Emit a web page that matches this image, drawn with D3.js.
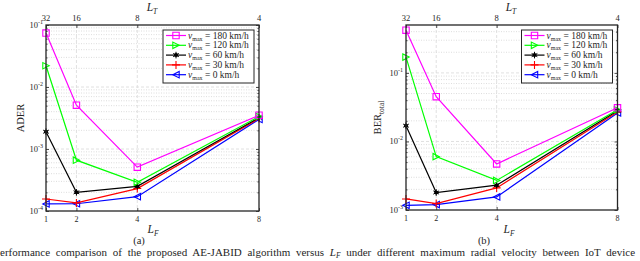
<!DOCTYPE html>
<html><head><meta charset="utf-8">
<script src="https://cdn.jsdelivr.net/npm/d3@7"></script>
<style>
html,body{margin:0;padding:0;background:#fff;overflow:hidden}
svg text{font-family:"Liberation Serif","DejaVu Serif",serif;fill:#262626}
</style></head><body>
<svg id="c" width="640" height="261" font-family="Liberation Serif, DejaVu Serif, serif"></svg>
<script>
// ---- data ----
const LF = [1, 2, 4, 8];
const LT = [32, 16, 8, 4];
const speeds = ["180", "120", "60", "30", "0"];
const colors = ["#ff00ff", "#00ff00", "#000000", "#ff0000", "#0000ff"];
const markers = ["square", "triRight", "star", "plus", "triLeft"];

const ader180 = [0.074, 0.0051, 5.1e-4, 3.5e-3];
const ader120 = [0.022, 6.6e-4, 2.9e-4, 3.35e-3];
const ader60  = [1.9e-3, 2.0e-4, 2.5e-4, 3.2e-3];
const ader30  = [1.56e-4, 1.35e-4, 2.3e-4, 3.1e-3];
const ader0   = [1.3e-4, 1.31e-4, 1.7e-4, 3.0e-3];

const ber180 = [0.42, 0.045, 4.7e-3, 0.031];
const ber120 = [0.17, 6.0e-3, 2.7e-3, 0.029];
const ber60  = [0.017, 1.8e-3, 2.3e-3, 0.028];
const ber30  = [1.45e-3, 1.24e-3, 2.1e-3, 0.027];
const ber0   = [1.17e-3, 1.2e-3, 1.55e-3, 0.026];

const aderTicks = [1e-4, 1e-3, 1e-2, 1e-1];
const berTicks = [1e-3, 1e-2, 1e-1];

const svg = d3.select("#c");

function symPath(type, s) {
  const p = d3.path();
  if (type === "square") { p.rect(-s, -s, 2 * s, 2 * s); }
  else if (type === "triRight") { p.moveTo(s, 0); p.lineTo(-s, -s); p.lineTo(-s, s); p.closePath(); }
  else if (type === "triLeft") { p.moveTo(-s, 0); p.lineTo(s, -s); p.lineTo(s, s); p.closePath(); }
  else if (type === "plus") { p.moveTo(-s, 0); p.lineTo(s, 0); p.moveTo(0, -s); p.lineTo(0, s); }
  else if (type === "ast") {
    for (let a = 0; a < 3; a++) {
      const th = Math.PI / 2 + a * Math.PI / 3;
      p.moveTo(-s * Math.cos(th), -s * Math.sin(th)); p.lineTo(s * Math.cos(th), s * Math.sin(th));
    }
  }
  return p.toString();
}
function drawMarker(g, type, x, y, color) {
  if (type === "star") {
    g.append("circle").attr("cx", x).attr("cy", y).attr("r", 2).attr("fill", color);
    g.append("path").attr("transform", `translate(${x},${y})`)
      .attr("d", symPath("ast", 3.3)).attr("fill", "none").attr("stroke", color).attr("stroke-width", 1);
  } else {
    const s = type === "plus" ? 4 : 3.2;
    g.append("path").attr("transform", `translate(${x},${y})`)
      .attr("d", symPath(type, s)).attr("fill", "none").attr("stroke", color).attr("stroke-width", 1.1);
  }
}

function drawPanel(cfg) {
  const { left, right, top, bottom, yDomain, yTicks, series, yLabel, yLabelX, sub, subX, lfX, ltX } = cfg;
  const x = d3.scaleLinear().domain([1, 8]).range([left, right]);
  const y = d3.scaleLog().domain(yDomain).range([bottom, top]);
  const g = svg.append("g");

  const minor = [];
  const lo = Math.floor(Math.log10(yDomain[0])), hi = Math.ceil(Math.log10(yDomain[1]));
  for (let e = lo; e < hi; e++) for (let m = 2; m <= 9; m++) {
    const v = m * Math.pow(10, e);
    if (v > yDomain[0] && v < yDomain[1]) minor.push(v);
  }
  g.selectAll(".mg").data(minor).join("line")
    .attr("x1", left).attr("x2", right).attr("y1", d => y(d)).attr("y2", d => y(d))
    .attr("stroke", "#d4d4d4").attr("stroke-width", 0.8).attr("stroke-dasharray", "1,1.5");
  g.selectAll(".Mg").data(yTicks.filter(d => d > yDomain[0] && d < yDomain[1])).join("line")
    .attr("x1", left).attr("x2", right).attr("y1", d => y(d)).attr("y2", d => y(d))
    .attr("stroke", "#dcdcdc").attr("stroke-width", 0.9).attr("stroke-dasharray", "3,2");
  g.selectAll(".vg").data(LF.slice(1, 3)).join("line")
    .attr("x1", d => x(d)).attr("x2", d => x(d)).attr("y1", top).attr("y2", bottom)
    .attr("stroke", "#dcdcdc").attr("stroke-width", 0.9).attr("stroke-dasharray", "3,2");

  const axL = g.append("g").attr("transform", `translate(${left},0)`)
    .call(d3.axisRight(y).tickValues(yTicks).tickSize(3).tickFormat(""));
  const axLm = g.append("g").attr("transform", `translate(${left},0)`)
    .call(d3.axisRight(y).tickValues(minor).tickSize(1.6).tickFormat(""));
  const axR = g.append("g").attr("transform", `translate(${right},0)`)
    .call(d3.axisLeft(y).tickValues(yTicks).tickSize(3).tickFormat(""));
  const axRm = g.append("g").attr("transform", `translate(${right},0)`)
    .call(d3.axisLeft(y).tickValues(minor).tickSize(1.6).tickFormat(""));
  const axB = g.append("g").attr("transform", `translate(0,${bottom})`)
    .call(d3.axisTop(x).tickValues(LF).tickSize(3).tickFormat(""));
  const axT = g.append("g").attr("transform", `translate(0,${top})`)
    .call(d3.axisBottom(x).tickValues(LF).tickSize(3).tickFormat(""));
  [axL, axLm, axR, axRm, axB, axT].forEach(a => {
    a.select(".domain").remove();
    a.selectAll("line").attr("stroke", "#262626").attr("stroke-width", 0.8);
  });

  yTicks.forEach(t => {
    const tx = g.append("text").attr("x", left - 3).attr("y", y(t) + 3).attr("text-anchor", "end").attr("font-size", 8.5);
    tx.append("tspan").text("10");
    tx.append("tspan").attr("dy", -4).attr("font-size", 6).text("-" + Math.round(-Math.log10(t)));
  });
  LF.forEach(v => g.append("text").attr("x", x(v)).attr("y", bottom + 11).attr("text-anchor", "middle").attr("font-size", 8).text(v));
  LF.forEach((v, i) => g.append("text").attr("x", x(v)).attr("y", top - 4).attr("text-anchor", "middle").attr("font-size", 8.5).text(LT[i]));

  const lt = g.append("text").attr("x", ltX).attr("y", 11).attr("text-anchor", "middle").attr("font-size", 11.5);
  lt.append("tspan").attr("font-style", "italic").text("L");
  lt.append("tspan").attr("dy", 2.5).attr("font-size", 7.5).attr("font-style", "italic").text("T");
  const lf = g.append("text").attr("x", lfX).attr("y", 233).attr("text-anchor", "middle").attr("font-size", 11.5);
  lf.append("tspan").attr("font-style", "italic").text("L");
  lf.append("tspan").attr("dy", 2.5).attr("font-size", 7.5).attr("font-style", "italic").text("F");
  g.append("text").attr("x", subX).attr("y", 244).attr("text-anchor", "middle").attr("font-size", 10.5).text(sub);

  const yl = g.append("text").attr("transform", `translate(${yLabelX},${(top + bottom) / 2}) rotate(-90)`)
    .attr("text-anchor", "middle").attr("font-size", 10.5);
  yl.append("tspan").text(yLabel[0]);
  if (yLabel[1]) yl.append("tspan").attr("dy", 2.5).attr("font-size", 7.5).text(yLabel[1]);

  const line = d3.line().x((d, i) => x(LF[i])).y(d => y(d));
  const order = [4, 3, 2, 1, 0];
  order.forEach(k => {
    g.append("path").datum(series[k]).attr("d", line).attr("fill", "none")
      .attr("stroke", colors[k]).attr("stroke-width", 1.2);
    series[k].forEach((v, i) => drawMarker(g, markers[k], x(LF[i]), y(v), colors[k]));
  });

  g.append("rect").attr("x", left).attr("y", top).attr("width", right - left).attr("height", bottom - top)
    .attr("fill", "none").attr("stroke", "#262626").attr("stroke-width", 1.3);

  const lx = right - 96, ly = top + 5, lw = 91, lh = 53;
  const lg = g.append("g");
  lg.append("rect").attr("x", lx).attr("y", ly).attr("width", lw).attr("height", lh)
    .attr("fill", "#fff").attr("stroke", "#262626").attr("stroke-width", 1);
  speeds.forEach((s, k) => {
    const yy = ly + 5.5 + k * 9.8;
    lg.append("line").attr("x1", lx + 3).attr("x2", lx + 23).attr("y1", yy).attr("y2", yy)
      .attr("stroke", colors[k]).attr("stroke-width", 1.2);
    drawMarker(lg, markers[k], lx + 13, yy, colors[k]);
    const t = lg.append("text").attr("x", lx + 25).attr("y", yy + 3).attr("font-size", 9.5);
    t.append("tspan").attr("font-style", "italic").text("v");
    t.append("tspan").attr("dy", 2).attr("font-size", 6).text("max");
    t.append("tspan").attr("dy", -2).text(" = " + s + " km/h");
  });
}

drawPanel({
  left: 46, right: 259, top: 25, bottom: 211,
  yDomain: [1e-4, 1e-1], yTicks: aderTicks,
  series: [ader180, ader120, ader60, ader30, ader0],
  yLabel: ["ADER"], yLabelX: 24, sub: "(a)", subX: 139, lfX: 153, ltX: 152
});
drawPanel({
  left: 406, right: 617.5, top: 25, bottom: 210,
  yDomain: [1e-3, 0.5], yTicks: berTicks,
  series: [ber180, ber120, ber60, ber30, ber0],
  yLabel: ["BER", "total"], yLabelX: 381, sub: "(b)", subX: 484, lfX: 509, ltX: 511
});

// figure caption (visible part, justified across the width)
const cap = svg.append("text").attr("x", 0).attr("y", 256).attr("font-size", 11);
cap.append("tspan").text("erformance comparison of the proposed AE-JABID algorithm versus ");
cap.append("tspan").attr("font-style", "italic").text("L");
cap.append("tspan").attr("font-style", "italic").attr("dy", 2).attr("font-size", 7.5).text("F");
cap.append("tspan").attr("dy", -2).text(" under different maximum radial velocity between IoT device");
const w0 = cap.node().getComputedTextLength();
const nSpaces = 17;
const ws = Math.max(0, (638 - w0) / nSpaces);
cap.attr("word-spacing", ws);
</script></body></html>
